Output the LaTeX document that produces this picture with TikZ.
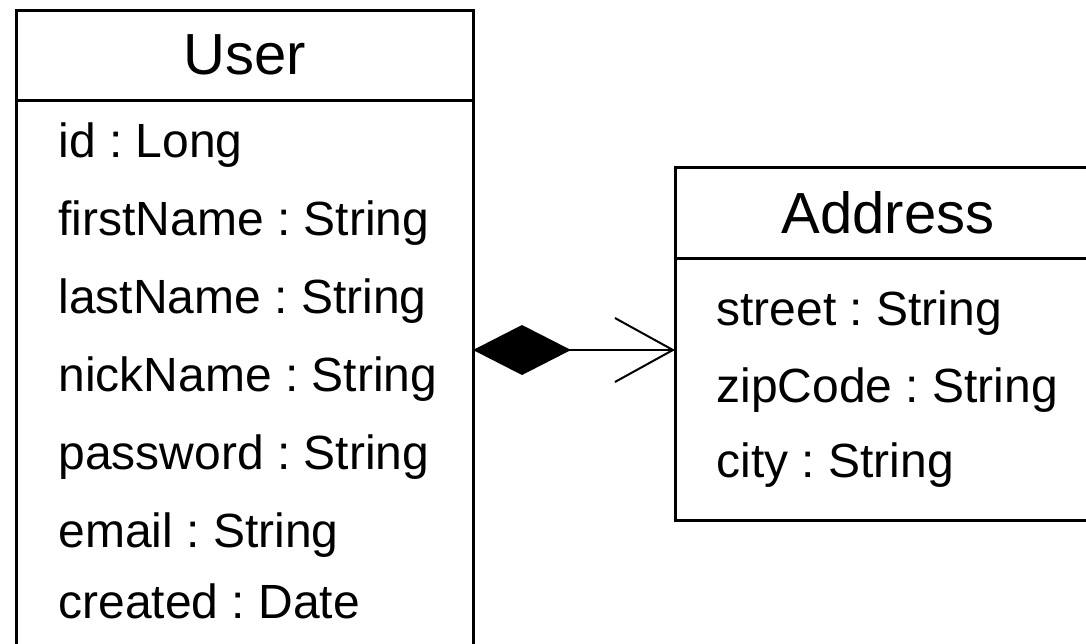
\documentclass[tikz,border=0pt]{standalone}
\usepackage{fontspec}
\setsansfont{Liberation Sans}
\usetikzlibrary{arrows.meta, calc, positioning}
\frenchspacing

\begin{document}
\begin{tikzpicture}[
    x=0.5pt, y=-0.5pt,
    font=\sffamily,
    line width=1.5pt,
    classhead/.style={
        draw,
        rectangle,
        outer sep=0pt,
        inner sep=0pt,
        font=\sffamily\fontsize{29}{34}\selectfont
    },
    classbody/.style={
        draw,
        rectangle,
        outer sep=0pt,
        inner sep=0pt
    },
    attr/.style={
        anchor=base west,
        inner sep=0pt,
        font=\sffamily\fontsize{24}{28}\selectfont
    },
    composition/.style={
        line width=1pt,
        {Diamond[length=49pt, width=25pt]}-{Straight Barb[length=29pt, width=32pt]}
    }
]

    % Frame
    \path[use as bounding box, clip] (0,0) rectangle (1086,643);

    % User class
    \node [classhead, anchor=north west, minimum width=228.5pt, minimum height=45pt] (user) at (16,10) {User};
    \node [classbody, below=0pt of user, minimum width=228.5pt, minimum height=290pt] (userbody) {};

    \foreach \attr/\ypos [count=\i] in {id : Long/157, firstName : String/235, lastName : String/313, nickName : String/391, password : String/469, email : String/547, created : Date/618} {
        \node [attr] (uattr\i) at (57,\ypos) {\attr};
    }

    % Address class
    \node [classhead, anchor=north west, minimum width=213pt, minimum height=45.5pt] (address) at (675,167) {Address};
    \node [classbody, below=0pt of address, minimum width=213pt, minimum height=131pt] (addressbody) {};

    \foreach \attr/\ypos [count=\i] in {street : String/325, zipCode : String/402, city : String/477} {
        \node [attr] (aattr\i) at (715,\ypos) {\attr};
    }

    % Composition
    \coordinate (whole) at ($(userbody.north east)+(0,250)$);
    \coordinate (part) at (whole -| addressbody.west);
    \draw [composition] (whole) -- (part);

\end{tikzpicture}
\end{document}
